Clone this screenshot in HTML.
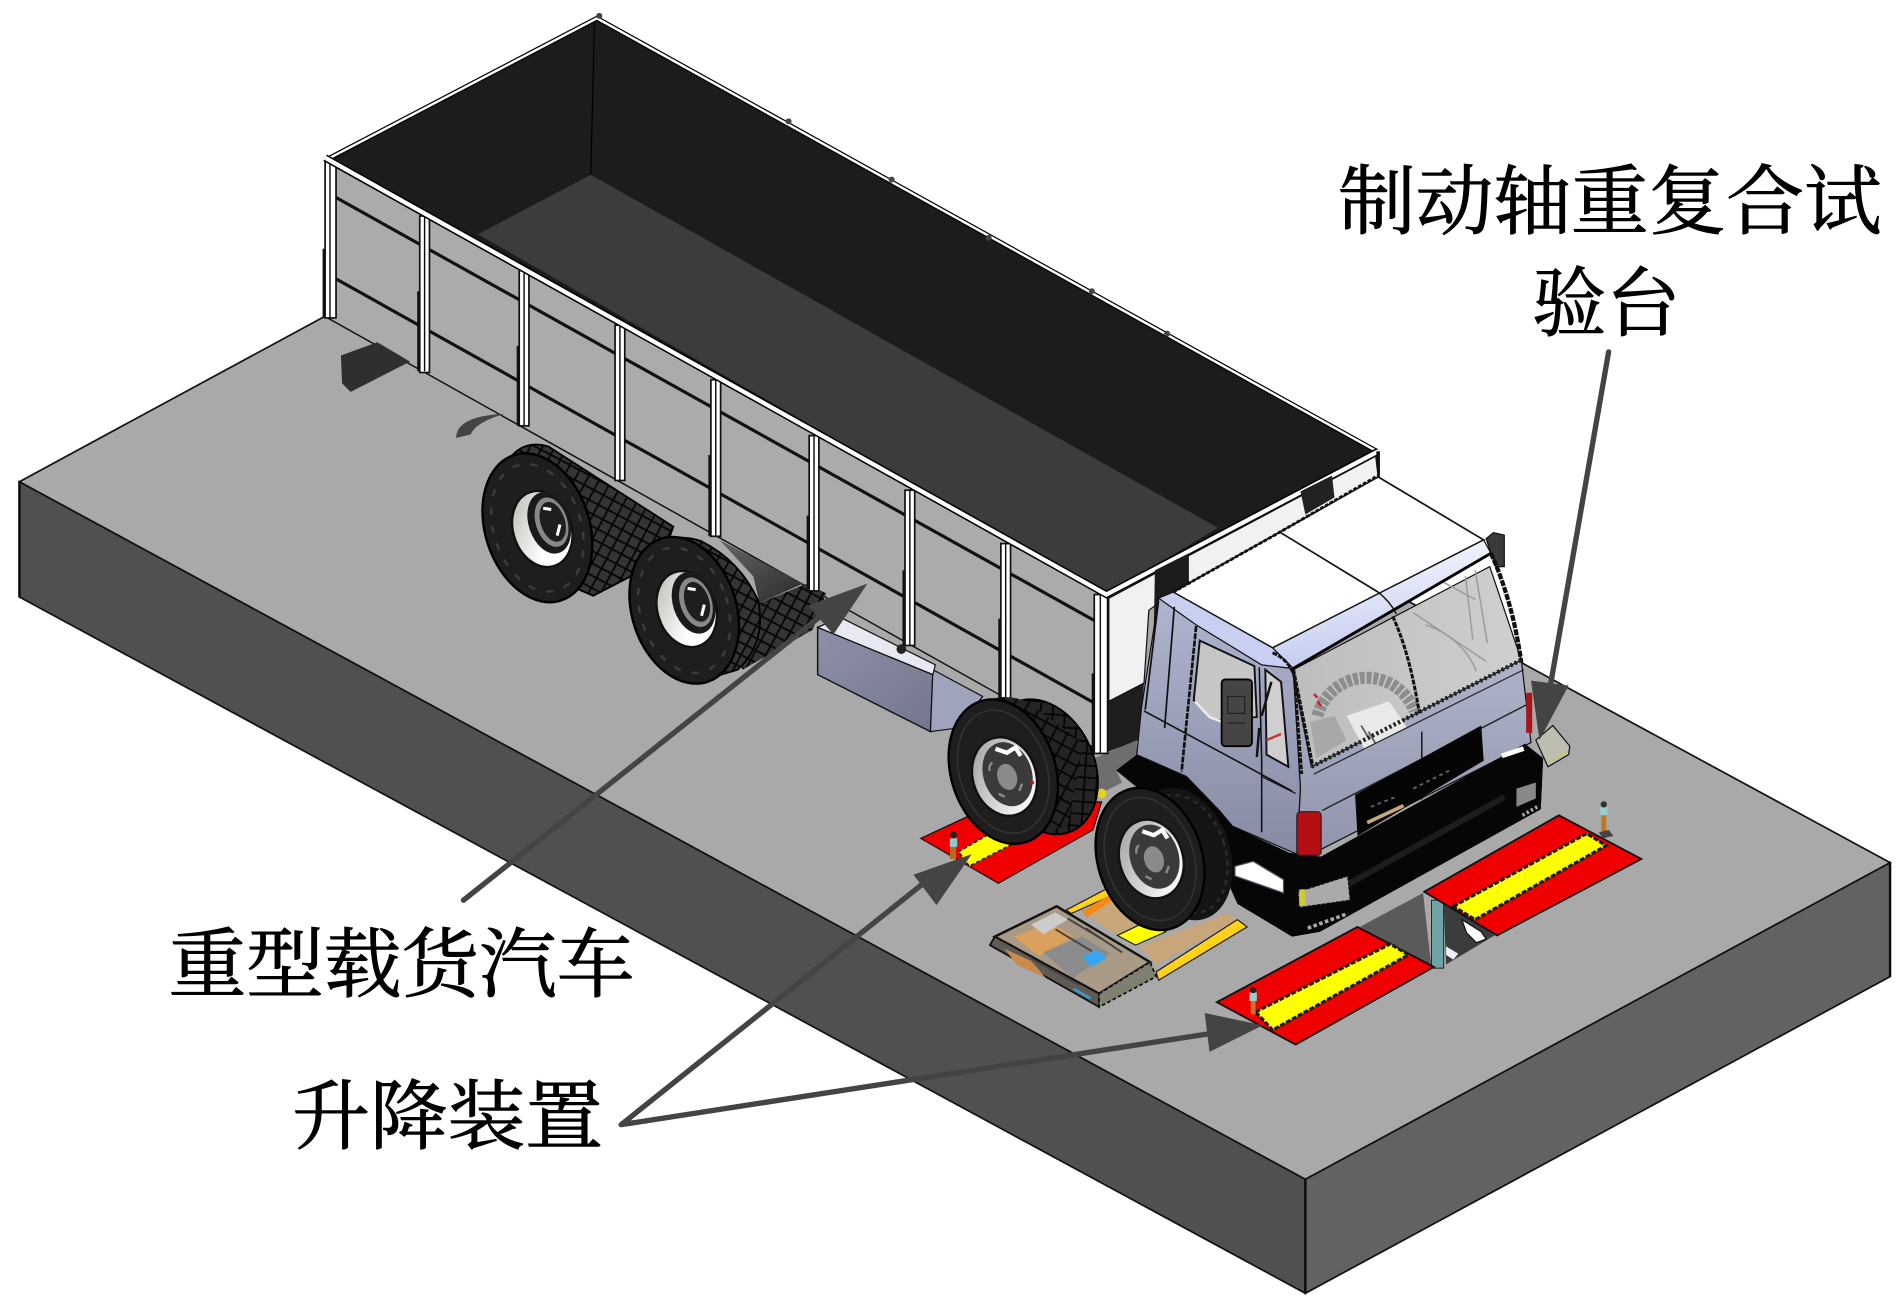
<!DOCTYPE html>
<html lang="zh">
<head>
<meta charset="utf-8">
<title>制动轴重复合试验台</title>
<style>
html,body{margin:0;padding:0;background:#fff;width:1901px;height:1314px;overflow:hidden}
svg{display:block}
text{font-family:"Liberation Serif","Noto Serif CJK SC",serif;font-size:63px;fill:#000;stroke:#000;stroke-width:.8}
</style>
</head>
<body>
<svg xmlns="http://www.w3.org/2000/svg" width="1901" height="1314" viewBox="0 0 1567 1083">
<defs>
<linearGradient id="sideG" x1="0" y1="0" x2="0" y2="1"><stop offset="0" stop-color="#b0b5d0"/><stop offset="1" stop-color="#868aa2"/></linearGradient>
<linearGradient id="frontG" x1="0" y1="0" x2="0" y2="1"><stop offset="0" stop-color="#aeb3ca"/><stop offset="1" stop-color="#9095ac"/></linearGradient>
<linearGradient id="bandG" x1="0" y1="0" x2="0.25" y2="1"><stop offset="0" stop-color="#fff"/><stop offset="1" stop-color="#c2caf0"/></linearGradient>
<linearGradient id="glassG" x1="0" y1="0" x2="1" y2="0"><stop offset="0" stop-color="#bdbdbd"/><stop offset="1" stop-color="#cfcfcf"/></linearGradient>
<linearGradient id="tankG" x1="0" y1="0" x2="1" y2="1"><stop offset="0" stop-color="#8d90a8"/><stop offset="1" stop-color="#74778e"/></linearGradient>
<linearGradient id="rimW" x1="0" y1="0" x2="1" y2="1"><stop offset="0" stop-color="#b8b4ac"/><stop offset=".6" stop-color="#fff"/><stop offset="1" stop-color="#fff"/></linearGradient>
<linearGradient id="rimG" x1="0" y1="0" x2="1" y2="1"><stop offset="0" stop-color="#999"/><stop offset=".7" stop-color="#eee"/><stop offset="1" stop-color="#fff"/></linearGradient>
<linearGradient id="shadowG" x1="0" y1="0" x2="1" y2="1"><stop offset="0" stop-color="#666"/><stop offset="1" stop-color="#2a2a2a"/></linearGradient>
<pattern id="tread" width="9" height="9" patternUnits="userSpaceOnUse" patternTransform="rotate(28)">
<rect width="9" height="9" fill="#343434"/><path d="M0 0H9M0 0V9" stroke="#060606" stroke-width="3"/>
</pattern>
<pattern id="treadD" width="10" height="10" patternUnits="userSpaceOnUse" patternTransform="rotate(28)">
<rect width="10" height="10" fill="#242424"/><path d="M0 0H10M0 0V10" stroke="#050505" stroke-width="3"/>
</pattern>
<g id="hubA">
<ellipse cx="0" cy="0" rx="24" ry="32" fill="url(#rimW)" stroke="#111" stroke-width="2"/>
<ellipse cx="7" cy="-3" rx="17" ry="26" fill="#1a1a1a"/>
<ellipse cx="9" cy="-3" rx="13" ry="21" fill="#888"/>
<ellipse cx="10" cy="-3" rx="10" ry="17" fill="#1e1e1e"/>
<path d="M6-16l6 3M15 1l-5 8" stroke="#fff" stroke-width="2.5"/>
</g>
<g id="hubB">
<ellipse cx="0" cy="0" rx="26" ry="33" fill="url(#rimG)" stroke="#111" stroke-width="2"/>
<ellipse cx="3" cy="-1" rx="20" ry="27" fill="#3a3a3a"/>
<ellipse cx="2" cy="1" rx="8" ry="11" fill="#8a8a8a"/>
<path d="M0-24l8 6 8-2 2 8" fill="none" stroke="#fff" stroke-width="3.5"/>
<path d="M-10-8a6 6 0 0 1 4-6M-9 12l4 4M12 10l-4 5" stroke="#888" stroke-width="2" fill="none"/>
</g>
</defs>

<rect width="1567" height="1083" fill="#fff"/>

<!-- platform -->
<polygon points="16,397 1076,972 1076,1066 16,492" fill="#505050" stroke="#111" stroke-width="1.4"/>
<polygon points="1076,972 1558,711 1558,805 1076,1066" fill="#626262" stroke="#111" stroke-width="1.4"/>
<polygon points="16,397 498,136 1558,711 1076,972" fill="#a9a9a9" stroke="#111" stroke-width="1.4"/>
<line x1="1076" y1="972" x2="1076" y2="1066" stroke="#0a0a0a" stroke-width="2"/>
<line x1="16" y1="397" x2="16" y2="492" stroke="#0a0a0a" stroke-width="2"/>
<line x1="1558" y1="711" x2="1558" y2="805" stroke="#0a0a0a" stroke-width="2"/>

<!-- truck bed interior -->
<polygon points="270,130 492,15 1135,372 912,490" fill="#1c1c1c" stroke="#000" stroke-width="1"/>
<polygon points="394,193 487,144 1004,435 912,490" fill="#3c3c3c"/>
<line x1="490" y1="17" x2="487" y2="144" stroke="#000"/>
<polyline points="272,130 492,15 1135,372" fill="none" stroke="#000" stroke-width="4"/>
<polyline points="272,130 492,15 1135,372" fill="none" stroke="#fff" stroke-width="2"/>
<g fill="#444"><circle cx="494" cy="13" r="2.5"/><circle cx="650" cy="100" r="2.5"/><circle cx="735" cy="148" r="2.5"/><circle cx="815" cy="196" r="2.5"/><circle cx="900" cy="240" r="2.5"/><circle cx="962" cy="275" r="2.5"/></g>

<!-- side panel -->
<polygon points="270,134 912,490 912,622 270,262" fill="#ababab" stroke="#111" stroke-width="1.2"/>
<g stroke="#111" stroke-width="2.6">
<line x1="272" y1="160" x2="912" y2="517"/>
<line x1="272" y1="227" x2="912" y2="585"/>
</g>

<!-- mudflap & fender -->
<polygon points="281,293 311,282 338,298 289,323 282,316" fill="#2f2f2f"/>
<path d="M376 361 Q376 343 416 341 Q392 348 388 358Z" fill="#444"/>

<!-- shadow under truck -->
<polygon points="593,445 662,481 626,497 621,475" fill="url(#shadowG)"/>
<polygon points="626,497 665,481 681,489 670,519 612,552 600,520" fill="url(#tread)"/>

<!-- rear wheel 1 -->
<path d="M420 378Q432 362 452 368L555 434L545 462L489 491L440 470Z" fill="url(#tread)" stroke="#000" stroke-width="1.5"/>
<ellipse cx="443" cy="435" rx="43" ry="63" transform="rotate(-18 443 435)" fill="#1e1e1e" stroke="#000" stroke-width="2"/>
<ellipse cx="443" cy="435" rx="36" ry="54" transform="rotate(-18 443 435)" fill="none" stroke="#3c3c3c" stroke-width="2" stroke-dasharray="6 9"/>
<use href="#hubA" transform="translate(447,436) rotate(-18)"/>

<!-- rear wheel 2 -->
<path d="M540 452Q555 438 578 446Q610 462 625 495Q632 530 608 552L575 562Z" fill="url(#tread)" stroke="#000" stroke-width="1.5"/>
<ellipse cx="564" cy="503" rx="43" ry="62" transform="rotate(-18 564 503)" fill="#1e1e1e" stroke="#000" stroke-width="2"/>
<ellipse cx="564" cy="503" rx="36" ry="53" transform="rotate(-18 564 503)" fill="none" stroke="#3c3c3c" stroke-width="2" stroke-dasharray="6 9"/>
<use href="#hubA" transform="translate(566,502) rotate(-18)"/>

<!-- fuel tank -->
<polygon points="674,517 769,556 767,603 674,556" fill="url(#tankG)" stroke="#111" stroke-width="1.2"/>
<polygon points="769,552 810,574 790,600 767,603" fill="#9fa3bc" stroke="#111"/>
<polygon points="693,509 771,548 769,556 674,517" fill="#e8e8f2" stroke="#111"/>
<circle cx="743" cy="535" r="4" fill="#222"/>

<!-- gap behind cab -->
<polygon points="912,566 943,563 939,610 912,620" fill="#1e1e1e"/>
<polygon points="902,625 937,610 937,622 920,635 925,645 905,655" fill="#6e6e6e"/>

<!-- posts -->
<g fill="#fff" stroke="#111" stroke-width="1.4">
<rect x="268" y="132" width="9" height="130"/>
<rect x="346" y="178" width="8" height="129"/>
<rect x="428" y="223" width="8" height="128"/>
<rect x="507" y="268" width="8" height="128"/>
<rect x="586" y="313" width="8" height="129"/>
<rect x="667" y="359" width="8" height="128"/>
<rect x="746" y="404" width="8" height="128"/>
<rect x="825" y="448" width="8" height="128"/>
<rect x="902" y="490" width="11" height="131"/>
</g>
<g stroke="#111" stroke-width="1.2">
<line x1="272" y1="134" x2="272" y2="262"/><line x1="350" y1="178" x2="350" y2="306"/><line x1="432" y1="223" x2="432" y2="351"/><line x1="511" y1="268" x2="511" y2="396"/><line x1="590" y1="313" x2="590" y2="442"/><line x1="671" y1="359" x2="671" y2="487"/><line x1="750" y1="404" x2="750" y2="532"/><line x1="829" y1="448" x2="829" y2="576"/><line x1="907" y1="490" x2="907" y2="621"/>
</g>
<g stroke="#111" stroke-width="2.2">
<line x1="267" y1="205" x2="267" y2="262"/><line x1="345" y1="240" x2="345" y2="306"/><line x1="427" y1="285" x2="427" y2="351"/><line x1="585" y1="375" x2="585" y2="442"/><line x1="666" y1="425" x2="666" y2="487"/><line x1="745" y1="470" x2="745" y2="532"/><line x1="824" y1="510" x2="824" y2="576"/><line x1="901" y1="555" x2="901" y2="621"/>
</g>
<!-- near rim -->
<polyline points="268,130 912,490 1136,372" fill="none" stroke="#000" stroke-width="6"/>
<polyline points="268,130 912,490 1136,372" fill="none" stroke="#fff" stroke-width="3.5"/>
<line x1="1136" y1="372" x2="1136" y2="393" stroke="#111" stroke-width="3"/>

<!-- front wall -->
<polygon points="914,493 1134,376 1136,393 967,488 947,503 943,563 914,578" fill="#f1f1f1" stroke="#111" stroke-width="1"/>
<polygon points="1072,405 1098,392 1100,410 1076,424" fill="#222"/>
<polygon points="952,470 980,456 980,480 962,492 959,520 951,523" fill="#1c1c1c"/>

<!-- left lifting pad (under mid wheel) -->
<polygon points="759,691 804,670 860,660 908,661 901,684 823,728" fill="#f00000" stroke="#111"/>
<polygon points="790,702 816,687 834,696 799,714" fill="#ffff00" stroke="#222" stroke-width="1.5" stroke-dasharray="3 2"/>
<circle cx="908" cy="654" r="4" fill="#e8d020"/>

<!-- mid wheel -->
<ellipse cx="860" cy="632" rx="42" ry="58" transform="rotate(-24 860 632)" fill="url(#treadD)" stroke="#000" stroke-width="1.5"/>
<path d="M812 578Q830 570 850 580L893 613L880 680L845 690Z" fill="url(#treadD)"/>
<ellipse cx="827" cy="636" rx="43" ry="61" transform="rotate(-18 827 636)" fill="#1e1e1e" stroke="#000" stroke-width="2"/>
<ellipse cx="827" cy="636" rx="36" ry="52" transform="rotate(-18 827 636)" fill="none" stroke="#333" stroke-width="1.2"/>
<use href="#hubB" transform="translate(828,640) rotate(-18)"/>
<circle cx="851" cy="645" r="1.5" fill="#d01818"/>

<rect x="783" y="697" width="5" height="11" fill="#b66a1c"/>
<rect x="783" y="691" width="6" height="7" fill="#8cc"/>
<circle cx="786" cy="688" r="2.8" fill="#222"/>

<!-- middle test unit -->
<polygon points="894,753 919,736 942,758 921,771" fill="#c9a679"/>
<polygon points="940,780 1011,753 1020,758 953,795" fill="#c9a679"/>
<polygon points="879,750 917,730 921,736 883,753" fill="#ffd21a" stroke="#222"/>
<polygon points="892,751 919,735 921,739 896,756" fill="#f58a18"/>
<polygon points="953,801 1020,758 1028,764 955,808" fill="#ffd21a" stroke="#222"/>
<polygon points="921,771 944,760 961,768 936,779" fill="#ffff00" stroke="#222"/>
<polygon points="820,772 871,747 948,793 906,819" fill="#a89a86" stroke="#111" stroke-width="2"/>
<polygon points="816,779 820,772 906,819 906,830" fill="#5f5a54" stroke="#111" stroke-width="1.5"/>
<polygon points="906,819 948,793 953,805 906,830" fill="#7f7f72" stroke="#111" stroke-width="1.5" stroke-dasharray="3 2"/>
<polygon points="836,772 865,760 885,772 856,788" fill="#dba05c"/>
<polygon points="860,785 892,772 915,786 884,806" fill="#8b8b8b"/>
<polygon points="850,762 870,752 880,758 860,770" fill="#ccc"/>
<polygon points="892,788 905,783 912,790 899,797" fill="#35a7f0"/>
<polygon points="828,782 850,792 862,806 838,795" fill="#c98a4c"/>
<path d="M880 757l30 18M870 766l30 18M850 790l40 22M895 765l30 20" stroke="#444" stroke-width="1.6" fill="none"/>
<path d="M885 815l14 8" stroke="#3a9ed0" stroke-width="2"/>

<!-- right pads -->
<polygon points="1121,764 1173,736 1180,798" fill="#5a5a5a"/>
<polygon points="1190,745 1208,755 1232,771 1192,795" fill="#3c3c3c"/>
<path d="M1205 758l16 10 4 6-8 3-8-8z" fill="#fff" stroke="#111"/>
<path d="M1192 780l10 6-4 5-6-4z" fill="#eef"/>
<rect x="1180" y="742" width="10" height="56" fill="#6fa3a6" stroke="#222" stroke-width=".8"/>
<polygon points="1003,826 1119,764 1182,797 1068,861" fill="#f00000" stroke="#111" stroke-width="1.5"/>
<polygon points="1035,834 1146,778 1161,787 1049,849" fill="#ffff00" stroke="#1a1a1a" stroke-width="2.6" stroke-dasharray="4 1.5"/>
<polygon points="1174,735 1285,672 1353,708 1234,771" fill="#f00000" stroke="#111" stroke-width="1.5"/>
<polygon points="1198,747 1308,687 1324,697 1216,758" fill="#ffff00" stroke="#1a1a1a" stroke-width="2.6" stroke-dasharray="4 1.5"/>
<rect x="1320" y="671" width="4" height="14" fill="#c8741c"/>
<rect x="1319" y="665" width="6" height="7" fill="#9cc"/>
<circle cx="1322" cy="663" r="2.6" fill="#333"/>
<polygon points="1318,686 1326,684 1330,689 1321,691" fill="#444"/>
<rect x="1031" y="824" width="4" height="12" fill="#c8741c"/>
<rect x="1030" y="818" width="6" height="7" fill="#9cc"/>
<circle cx="1033" cy="816" r="2.6" fill="#222"/>

<!-- small plate in front -->
<polygon points="1266,610 1280,598 1294,615 1293,622 1276,632" fill="#bdbdb0" stroke="#111"/>
<path d="M1276 628l16-8" stroke="#cc3" stroke-width="1.5" stroke-dasharray="2 2"/>

<!-- cab lower black -->
<polygon points="920,635 937,622 978,640 1005,668 1016,681 1063,703 1089,706 1257,613 1272,625 1270,667 1088,768 1065,772 1020,745 1000,700" fill="#060606"/>
<!-- cab side -->
<polygon points="955,493 1049,534 1066,551 1072,650 1069,704 1016,681 1005,668 978,640 937,622 941,583" fill="url(#sideG)" stroke="#111" stroke-width="1"/>
<polygon points="1066,551 1081,632 1254,544 1262,612 1089,700 1069,704 1072,650" fill="url(#frontG)" stroke="#111" stroke-width="1"/>
<!-- front wheel -->
<ellipse cx="976" cy="704" rx="38" ry="56" transform="rotate(-18 976 704)" fill="#141414"/>
<ellipse cx="976" cy="704" rx="34" ry="50" transform="rotate(-18 976 704)" fill="none" stroke="#2c2c2c" stroke-width="2" stroke-dasharray="4 4"/>
<ellipse cx="948" cy="708" rx="43" ry="60" transform="rotate(-18 948 708)" fill="#1e1e1e" stroke="#000" stroke-width="2"/>
<ellipse cx="948" cy="708" rx="36" ry="52" transform="rotate(-18 948 708)" fill="none" stroke="#333" stroke-width="1.2"/>
<use href="#hubB" transform="translate(949,708) rotate(-18)"/>

<!-- roof -->
<polygon points="967,488 1136,393 1223,445 1049,534" fill="#fff" stroke="#111" stroke-width="1.4"/>
<polygon points="1049,534 1223,445 1229,456 1066,551" fill="url(#bandG)" stroke="#111" stroke-width="1"/>
<polygon points="955,493 967,488 1049,534 1066,551 1040,548 986,515" fill="#c8cff0" stroke="#111" stroke-width="1"/>
<line x1="1054" y1="438" x2="1136" y2="488" stroke="#111" stroke-width="1.4"/>
<path d="M1136 488q10 8 15 18" fill="none" stroke="#111" stroke-width="1.2"/>
<path d="M967 488l82-46 87-50" fill="none" stroke="#111" stroke-width="2.4" stroke-dasharray="3 1.5"/>
<polygon points="1225,444 1231,439 1240,441 1240,467 1233,467" fill="#3a3a3a" stroke="#111"/>

<!-- windshield -->
<polygon points="1066,552 1228,467 1254,544 1081,632" fill="url(#glassG)" stroke="#111" stroke-width="1"/>
<path d="M1086 590a42 42 0 0 1 80 -4" fill="none" stroke="#8d8d8d" stroke-width="10" stroke-dasharray="4 1.5"/>
<polygon points="1110,590 1145,578 1160,600 1125,618" fill="#e9e9e9"/>
<polygon points="1080,595 1085,625 1110,610 1100,590" fill="#a8a8a8"/>
<path d="M1128 603l6 10M1122 598l6 10" stroke="#666" stroke-width="1.6"/>
<path d="M1148 508q14 30 22 80" fill="none" stroke="#111" stroke-width="2.5" stroke-dasharray="4 1"/>
<path d="M1190 480l26 14M1216 470l10 60M1208 475l6 52M1175 515q30 10 42 38M1165 505l60 40" fill="none" stroke="#9a9a9a" stroke-width="1.2"/>
<path d="M1066 552l16 80" fill="none" stroke="#111" stroke-width="3" stroke-dasharray="4 1"/>
<path d="M1229 456q18 40 25 90" fill="none" stroke="#111" stroke-width="3.5" stroke-dasharray="5 1"/>
<path d="M1066 551L1229 456" stroke="#000" stroke-width="2.4"/>
<path d="M1081 632L1254 544" stroke="#222" stroke-width="3.5" stroke-dasharray="2 2"/>
<path d="M1083 638L1256 552" stroke="#222" stroke-width="1"/>
<path d="M1086 578l3 4M1083 572l3 3" stroke="#d02030" stroke-width="2"/>
<path d="M1172 603v56" stroke="#111" stroke-width="1.2"/>
<path d="M1090 668L1260 580" stroke="#222" stroke-width="1.2"/>

<!-- door and side windows -->
<polygon points="989,528 1034,549 1036,591 1004,594 997,591 984,577" fill="#c6c6c6" stroke="#111" stroke-width="1.6"/>
<path d="M985 578l12 13 10 4" stroke="#eee" stroke-width="2" fill="none"/>
<polygon points="1043,552 1056,562 1062,632 1044,622" fill="#cfcfcf" stroke="#111" stroke-width="1.6"/>
<path d="M986 516l-12 120" fill="none" stroke="#111" stroke-width="2.2" stroke-dasharray="5 1"/>
<path d="M955 495l-11 90M968 500l-8 100" fill="none" stroke="#111" stroke-width="1.4"/>
<path d="M943 586l78 42 44 24M1038 550l2 76v60" fill="none" stroke="#111" stroke-width="1.3"/>
<path d="M1049 538q14 6 18 20l6 80" fill="none" stroke="#111" stroke-width="2.4" stroke-dasharray="4 1"/>
<path d="M1040 640l28 14" fill="none" stroke="#111"/>
<rect x="1007" y="560" width="25" height="55" rx="3" fill="#454545" stroke="#000" stroke-width="1.5"/>
<path d="M1012 574h14v14h-14zM1012 596h14" stroke="#222" fill="none"/>
<path d="M1038 600l-2 24M1040 590l8-28" stroke="#111" stroke-width="2"/>
<path d="M1044 610l12-5" stroke="#c33" stroke-width="2"/>

<!-- grille, bumper, lights -->
<polygon points="1117,655 1221,598 1223,627 1119,689" fill="#050505"/>
<polygon points="1062,716 1072,706 1089,706 1257,613 1272,625 1270,667 1088,768 1065,772 1062,745" fill="#060606"/>
<path d="M1130 665l20-8M1165 650l30-15" stroke="#666" stroke-width="1.5" stroke-dasharray="3 3"/>
<path d="M1127 678l30-14" stroke="#c8a878" stroke-width="3"/>
<path d="M1100 735l140-78" stroke="#1c1c1c" stroke-width="5"/>
<rect x="1069" y="669" width="20" height="36" rx="3" fill="#b30f14" stroke="#222"/>
<rect x="1258" y="571" width="5" height="33" fill="#a8161a"/>
<polygon points="1018,714 1033,710 1058,725 1058,736 1018,722" fill="#fff" stroke="#556"/>
<polygon points="1070,735 1111,722 1113,742 1071,748" fill="#aaa" stroke="#111" stroke-dasharray="3 1"/>
<rect x="1071" y="733" width="5" height="13" fill="#cc3"/>
<path d="M1078 765l33-12" stroke="#aaa" stroke-width="3" stroke-dasharray="3 2"/>
<polygon points="1250,650 1266,645 1266,658 1250,665" fill="#888"/>
<path d="M1238 623l18-6" stroke="#fff" stroke-width="4"/>
<path d="M1255 672l14-8" stroke="#aaa" stroke-width="3" stroke-dasharray="2 2"/>

<!-- arrows -->
<g stroke="#444" stroke-width="4.4" fill="none" stroke-linecap="round" stroke-linejoin="round">
<line x1="382" y1="742" x2="680" y2="505"/>
<polyline points="765,725 512,927 1010,850"/>
<line x1="1326" y1="290" x2="1278" y2="565"/>
</g>
<g fill="#444">
<polygon points="715,481 666,499 687,523"/>
<polygon points="801,704 753,721 772,746"/>
<polygon points="1041,845 993,835 997,867"/>
<polygon points="1269,610 1262,561 1293,565"/>
</g>

<!-- labels -->
<text x="1103" y="188" textLength="448" lengthAdjust="spacingAndGlyphs">制动轴重复合试</text>
<text x="1263" y="272" textLength="122" lengthAdjust="spacingAndGlyphs">验台</text>
<text x="139" y="817" textLength="384" lengthAdjust="spacingAndGlyphs">重型载货汽车</text>
<text x="241" y="942" textLength="256" lengthAdjust="spacingAndGlyphs">升降装置</text>
</svg>
</body>
</html>
